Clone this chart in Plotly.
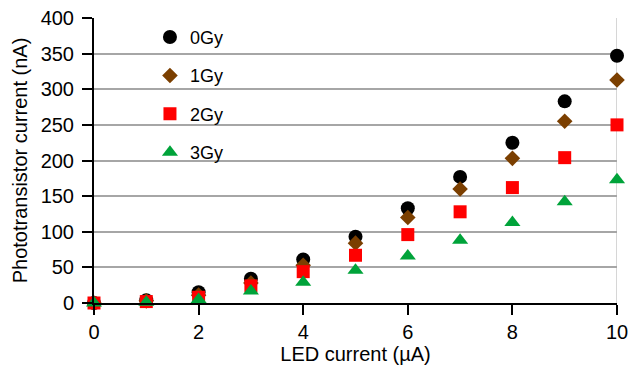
import plotly.graph_objects as go

led_current = [0, 1, 2, 3, 4, 5, 6, 7, 8, 9, 10]
dose_labels = ["0Gy", "1Gy", "2Gy", "3Gy"]
photo_0gy = [0, 4, 15, 34, 61, 93, 133, 177, 225, 283, 347]
photo_1gy = [0, 3, 11, 28, 53, 84, 120, 160, 203, 255, 313]
photo_2gy = [0, 2, 8, 24, 44, 67, 96, 128, 162, 204, 250]
photo_3gy = [0, 1, 5, 17, 29, 46, 66, 88, 113, 142, 173]

series = [photo_0gy, photo_1gy, photo_2gy, photo_3gy]
colors = ["#000000", "#7b3f00", "#ff0000", "#00a33a"]
symbols = ["circle", "diamond", "square", "triangle-up"]
sizes = [14, 12, 13, 14]

fig = go.Figure()
for label, ys, c, s, sz in zip(dose_labels, series, colors, symbols, sizes):
    fig.add_trace(go.Scatter(
        x=led_current, y=ys, mode="markers", name=label, legendgroup=label,
        marker=dict(color=c, symbol=s, size=sz, line=dict(width=0)),
        cliponaxis=False,
    ))

# light border on the right side of the plotting area
fig.add_shape(type="line", xref="x", yref="paper", x0=10, x1=10, y0=0, y1=1,
              line=dict(color="#c8c8c8", width=1.5), layer="below")

font = "Liberation Sans, Arial, sans-serif"
fig.update_layout(
    width=630, height=365,
    margin=dict(l=94, r=13, t=18, b=62),
    paper_bgcolor="white", plot_bgcolor="white",
    font=dict(family=font, size=19, color="#000000"),
    showlegend=True,
    legend=dict(x=0.107, y=0.997, xanchor="left", yanchor="top",
                bgcolor="rgba(0,0,0,0)", font=dict(size=18),
                tracegroupgap=12, itemwidth=30),
    xaxis=dict(
        range=[0, 10], tickvals=[0, 2, 4, 6, 8, 10],
        showgrid=False, zeroline=False, automargin=False,
        showline=True, linecolor="#000000", linewidth=2,
        ticks="outside", ticklen=10, tickwidth=2, tickcolor="#000000",
        title=dict(text="LED current (µA)", font=dict(size=20), standoff=2),
        tickfont=dict(size=20),
    ),
    yaxis=dict(
        range=[0, 400], tickvals=[0, 50, 100, 150, 200, 250, 300, 350, 400],
        showgrid=True, gridcolor="#a6a6a6", gridwidth=1.5, zeroline=False,
        automargin=False,
        showline=True, linecolor="#000000", linewidth=2,
        ticks="outside", ticklen=10, tickwidth=2, tickcolor="#000000",
        ticklabelstandoff=4,
        title=dict(text="Phototransistor current (nA)", font=dict(size=20), standoff=8),
        tickfont=dict(size=20),
    ),
)

fig.write_html("out.html")
